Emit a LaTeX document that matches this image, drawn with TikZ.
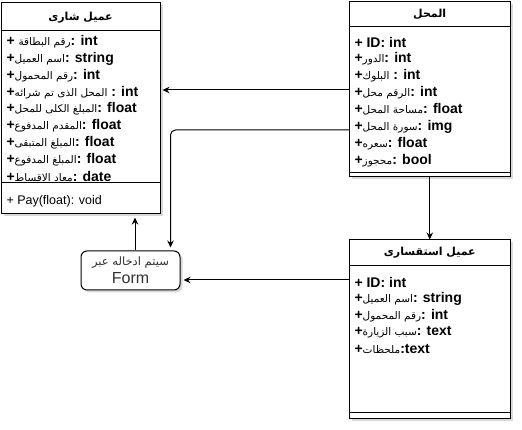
\documentclass[tikz,border=0pt]{standalone}
\usepackage{fontspec}
\setmainfont{Liberation Sans}
\newfontfamily\arabicfont[Script=Arabic]{DejaVu Sans}
\TeXXeTstate=1
\usetikzlibrary{arrows.meta, positioning, shadows}
\definecolor{notegray}{HTML}{333333}
\tikzstyle{classbox}=[draw,fill=white,rectangle,line width=1pt,inner sep=0pt,drop shadow={shadow xshift=2.5pt,shadow yshift=-2.5pt,opacity=.3}]
\tikzstyle{classtitle}=[inner sep=0pt]
\tikzstyle{attr}=[anchor=west,inner sep=0pt,font=\bfseries\fontsize{14}{16}\selectfont]
\tikzstyle{oper}=[anchor=west,inner sep=0pt,font=\fontsize{12.5}{15}\selectfont]
\tikzstyle{notebox}=[draw,fill=white,rectangle,rounded corners=6pt,line width=1pt,minimum width=99pt,minimum height=39pt,inner sep=0pt,align=center,text=notegray,drop shadow={shadow xshift=2.5pt,shadow yshift=-2.5pt,opacity=.3}]
\newcommand{\artext}[1]{{\arabicfont\mdseries\fontsize{10.5}{12}\selectfont\beginR #1\endR}}
\newcommand{\artitle}[1]{{\arabicfont\bfseries\fontsize{11}{13}\selectfont\beginR #1\endR}}

\begin{document}
\begin{tikzpicture}[x=1pt,y=-1pt,>={Stealth[length=7pt,width=6.5pt]},line width=1pt]
    \useasboundingbox (0,0) rectangle (522,430);
    % buyer class
    \node[classbox, minimum width=159pt, minimum height=211pt] (buyer) at (80.5,108.5) {};
    \draw ([yshift=-28pt]buyer.north west) -- ([yshift=-28pt]buyer.north east);
    \draw ([yshift=-180pt]buyer.north west) -- ([yshift=-180pt]buyer.north east);
    \node[classtitle] (buyername) at ([yshift=-15pt]buyer.north) {\artitle{عميل شارى}};
    \node[attr] (b1) at (6,42) {+ \artext{رقم البطاقة}: int};
    \node[attr] (b2) at ([yshift=-16.8pt]b1.west) {+\artext{اسم العميل}: string};
    \node[attr] (b3) at ([yshift=-16.8pt]b2.west) {+\artext{رقم المحمول}: int};
    \node[attr] (b4) at ([yshift=-16.8pt]b3.west) {+\artext{المحل الذى تم شرائه} : int};
    \node[attr] (b5) at ([yshift=-16.8pt]b4.west) {+\artext{المبلغ الكلى للمحل}: float};
    \node[attr] (b6) at ([yshift=-16.8pt]b5.west) {+\artext{المقدم المدفوع}: float};
    \node[attr] (b7) at ([yshift=-16.8pt]b6.west) {+\artext{المبلغ المتبقى}: float};
    \node[attr] (b8) at ([yshift=-16.8pt]b7.west) {+\artext{المبلغ المدفوع}: float};
    \node[attr] (b9) at ([yshift=-16.8pt]b8.west) {+\artext{معاد الاقساط}: date};
    \node[oper] (pay) at (6,201) {+ Pay(float): void};
    % shop class
    \node[classbox, minimum width=160.5pt, minimum height=175pt] (shop) at (429.75,89.5) {};
    \draw ([yshift=-25pt]shop.north west) -- ([yshift=-25pt]shop.north east);
    \draw ([yshift=-171pt]shop.north west) -- ([yshift=-171pt]shop.north east);
    \node[classtitle] (shopname) at ([yshift=-13pt]shop.north) {\artitle{المحل}};
    \node[attr] (s1) at (354,42) {+ ID: int};
    \node[attr] (s2) at ([yshift=-16.9pt]s1.west) {+\artext{الدور}: int};
    \node[attr] (s3) at ([yshift=-16.9pt]s2.west) {+\artext{البلوك} : int};
    \node[attr] (s4) at ([yshift=-16.9pt]s3.west) {+\artext{الرقم محل}: int};
    \node[attr] (s5) at ([yshift=-16.9pt]s4.west) {+\artext{مساحة المحل}: float};
    \node[attr] (s6) at ([yshift=-16.9pt]s5.west) {+\artext{سورة المحل}: img};
    \node[attr] (s7) at ([yshift=-16.9pt]s6.west) {+\artext{سعره}: float};
    \node[attr] (s8) at ([yshift=-16.9pt]s7.west) {+\artext{محجوز}: bool};
    % inquiry class
    \node[classbox, minimum width=160.5pt, minimum height=178pt] (inquirer) at (429.75,329) {};
    \draw ([yshift=-26pt]inquirer.north west) -- ([yshift=-26pt]inquirer.north east);
    \draw ([yshift=-173pt]inquirer.north west) -- ([yshift=-173pt]inquirer.north east);
    \node[classtitle] (inquirername) at ([yshift=-13pt]inquirer.north) {\artitle{عميل استقسارى}};
    \node[attr] (q1) at (354,282) {+ ID: int};
    \node[attr] (q2) at ([yshift=-16.8pt]q1.west) {+\artext{اسم العميل}: string};
    \node[attr] (q3) at ([yshift=-16.8pt]q2.west) {+\artext{رقم المحمول}: int};
    \node[attr] (q4) at ([yshift=-16.8pt]q3.west) {+\artext{سبب الزيارة}: text};
    \node[attr] (q5) at ([yshift=-16.8pt]q4.west) {+\artext{ملحظات}:text};
    % form note
    \node[notebox] (form) at (130.5,270.5) {{\arabicfont\fontsize{11.5}{14}\selectfont\beginR سيتم ادخاله عبر\endR}\\[3pt]{\fontsize{16}{17}\selectfont Form}};
    % links
    \coordinate (shoplinka) at (349.5,90);
    \coordinate (shoplinkb) at (349.5,130);
    \coordinate (inqlink) at (349.5,280);
    \draw[->, shorten >=2pt] (shoplinka) -- (shoplinka -| buyer.east);
    \draw[->, rounded corners=5pt, shorten >=3pt] (shoplinkb) -| ([xshift=40pt]form.north);
    \draw[->, shorten >=3pt] ([xshift=4.5pt]form.north) -- ([xshift=4.5pt]form.north |- buyer.south);
    \draw[->] (shop.south) -- (shop.south |- inquirer.north);
    \draw[->, shorten >=3pt] (inqlink) -- (inqlink -| form.east);
\end{tikzpicture}
\end{document}
